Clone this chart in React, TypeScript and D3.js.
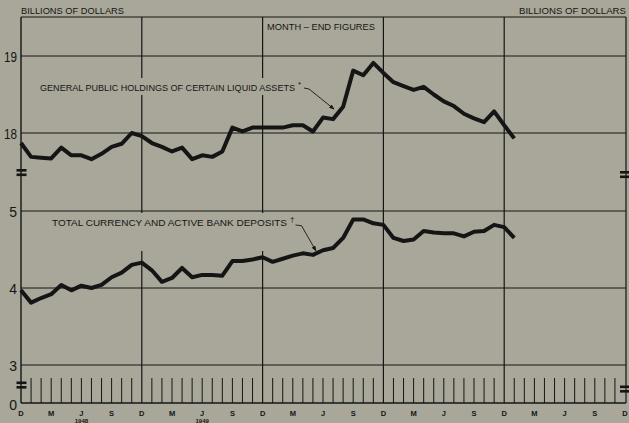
import React from "react";
import * as d3 from "d3";

const W = 629;
const H = 423;

// monthly, starting Dec 1947 (index 0)
const liquidAssets = [17.87, 17.69, 17.68, 17.67, 17.81, 17.71, 17.71, 17.66, 17.73, 17.82, 17.86, 18.0, 17.96, 17.87, 17.82, 17.76, 17.81, 17.66, 17.71, 17.69, 17.76, 18.07, 18.02, 18.07, 18.07, 18.07, 18.07, 18.1, 18.1, 18.02, 18.2, 18.18, 18.34, 18.81, 18.75, 18.91, 18.78, 18.66, 18.61, 18.56, 18.6, 18.5, 18.41, 18.35, 18.25, 18.19, 18.14, 18.28, 18.1, 17.93];
const currencyDeposits = [3.97, 3.81, 3.87, 3.92, 4.04, 3.97, 4.03, 4.0, 4.04, 4.14, 4.2, 4.3, 4.33, 4.23, 4.08, 4.13, 4.26, 4.14, 4.17, 4.17, 4.16, 4.35, 4.35, 4.37, 4.4, 4.34, 4.38, 4.42, 4.45, 4.43, 4.49, 4.52, 4.65, 4.89, 4.89, 4.84, 4.82, 4.65, 4.61, 4.63, 4.74, 4.72, 4.71, 4.71, 4.67, 4.73, 4.74, 4.82, 4.79, 4.65];

const upperTicks = [18, 19];
const lowerTicks = [3, 4, 5];
const monthLetters = ["D", "M", "J", "S"]; // every 3 months
const yearLabels = [
  { m: 6, label: "1948" },
  { m: 18, label: "1949" },
];
const totalMonths = 60;

const PAPER = "#a9a799";
const INK = "#151515";

export default function App() {
  const x = d3.scaleLinear().domain([0, totalMonths]).range([21, 625]);
  const yU = d3.scaleLinear().domain([18, 19]).range([133, 56]);
  const yL = d3.scaleLinear().domain([3, 5]).range([365, 211]);
  const top = 17;
  const base = 403;
  const left = x(0);
  const right = 626;

  const lineU = d3.line<number>().x((_, i) => x(i)).y((d) => yU(d));
  const lineL = d3.line<number>().x((_, i) => x(i)).y((d) => yL(d));

  const months = d3.range(1, totalMonths);
  const decembers = months.filter((m) => m % 12 === 0);
  const font = "'Liberation Sans', Arial, sans-serif";

  return (
    <svg width={W} height={H} style={{ position: "absolute", left: 0, top: 0 }} fontFamily={font}>
      <defs>
        <marker id="arr" viewBox="0 0 10 10" refX="9" refY="5" markerWidth="6" markerHeight="6" orient="auto">
          <path d="M0,1 L10,5 L0,9 z" fill={INK} />
        </marker>
      </defs>
      <rect width={W} height={H} fill={PAPER} />

      {/* horizontal grid */}
      {upperTicks.map((t) => (
        <line key={"u" + t} x1={left} x2={right} y1={yU(t)} y2={yU(t)} stroke={INK} strokeWidth={1} />
      ))}
      {lowerTicks.map((t) => (
        <line key={"l" + t} x1={left} x2={right} y1={yL(t)} y2={yL(t)} stroke={INK} strokeWidth={1} />
      ))}
      {/* vertical grid at Decembers */}
      {decembers.map((m) => (
        <line key={"v" + m} x1={x(m)} x2={x(m)} y1={top} y2={base} stroke={INK} strokeWidth={1.2} />
      ))}
      {/* monthly ticks */}
      {months.filter((m) => m % 12 !== 0).map((m) => (
        <line key={"t" + m} x1={x(m)} x2={x(m)} y1={378} y2={base} stroke={INK} strokeWidth={1} />
      ))}

      {/* frame */}
      <line x1={left} x2={right} y1={top} y2={top} stroke={INK} strokeWidth={1.2} />
      <line x1={left} x2={left} y1={top} y2={base} stroke={INK} strokeWidth={1.4} />
      <line x1={right} x2={right} y1={top} y2={base} stroke={INK} strokeWidth={1.2} />
      <line x1={left} x2={right} y1={base} y2={base} stroke={INK} strokeWidth={1.4} />

      {/* break marks */}
      {[
        [16.5, 170.5],
        [16.5, 383],
        [620, 172.5],
        [620, 387],
      ].map(([bx, by], i) => (
        <g key={"b" + i}>
          <rect x={bx} y={by - 1.5} width={10} height={2.6} fill={INK} />
          <rect x={bx} y={by + 3} width={10} height={2.6} fill={INK} />
        </g>
      ))}

      {/* header texts */}
      <text x={21} y={13.5} fontSize={8.5} fill={INK} textLength={103} lengthAdjust="spacingAndGlyphs">BILLIONS OF DOLLARS</text>
      <text x={519} y={13.5} fontSize={8.5} fill={INK} textLength={107} lengthAdjust="spacingAndGlyphs">BILLIONS OF DOLLARS</text>
      <text x={267} y={29.5} fontSize={8.5} fill={INK} textLength={108} lengthAdjust="spacingAndGlyphs">MONTH – END FIGURES</text>

      {/* y tick labels */}
      {upperTicks.map((t) => (
        <text key={"ut" + t} x={17} y={yU(t) + 5.5} fontSize={14} textAnchor="end" fill={INK} textLength={13} lengthAdjust="spacingAndGlyphs">{t}</text>
      ))}
      {lowerTicks.map((t) => (
        <text key={"lt" + t} x={17} y={yL(t) + 5.5} fontSize={14} textAnchor="end" fill={INK}>{t}</text>
      ))}
      <text x={17} y={base + 7} fontSize={14} textAnchor="end" fill={INK}>0</text>

      {/* month letters */}
      {d3.range(0, totalMonths + 1, 3).map((m) => (
        <text key={"ml" + m} x={x(m)} y={416} fontSize={7.5} fontWeight="bold" textAnchor="middle" fill={INK}>
          {monthLetters[(m / 3) % 4]}
        </text>
      ))}
      {yearLabels.map((yl) => (
        <text key={yl.label} x={x(yl.m)} y={422.5} fontSize={6} fontWeight="bold" textAnchor="middle" fill={INK}>{yl.label}</text>
      ))}

      {/* series labels with paper background */}
      <rect x={37} y={78} width={272} height={17} fill={PAPER} />
      <text x={40} y={90.7} fontSize={8.4} fill={INK} textLength={255} lengthAdjust="spacingAndGlyphs">GENERAL PUBLIC HOLDINGS OF CERTAIN LIQUID ASSETS</text>
      <text x={298} y={87} fontSize={8} fill={INK}>*</text>
      <path d={`M304,88 L309,89 L${x(31.1)},${yU(18.18) - 10}`} fill="none" stroke={INK} strokeWidth={0.9} markerEnd="url(#arr)" />

      <rect x={49} y={213} width={250} height={38} fill={PAPER} />
      <text x={52} y={226} fontSize={9.5} fill={INK} textLength={235} lengthAdjust="spacingAndGlyphs">TOTAL CURRENCY AND ACTIVE BANK DEPOSITS</text>
      <text x={290} y={222} fontSize={8} fill={INK}>†</text>
      <path d={`M295.5,225 L301.5,225.7 L${x(29.3)},${yL(4.43) - 4}`} fill="none" stroke={INK} strokeWidth={0.9} markerEnd="url(#arr)" />

      {/* series */}
      <path d={lineU(liquidAssets) || ""} fill="none" stroke={INK} strokeWidth={4} strokeLinejoin="round" />
      <path d={lineL(currencyDeposits) || ""} fill="none" stroke={INK} strokeWidth={4} strokeLinejoin="round" />
    </svg>
  );
}
